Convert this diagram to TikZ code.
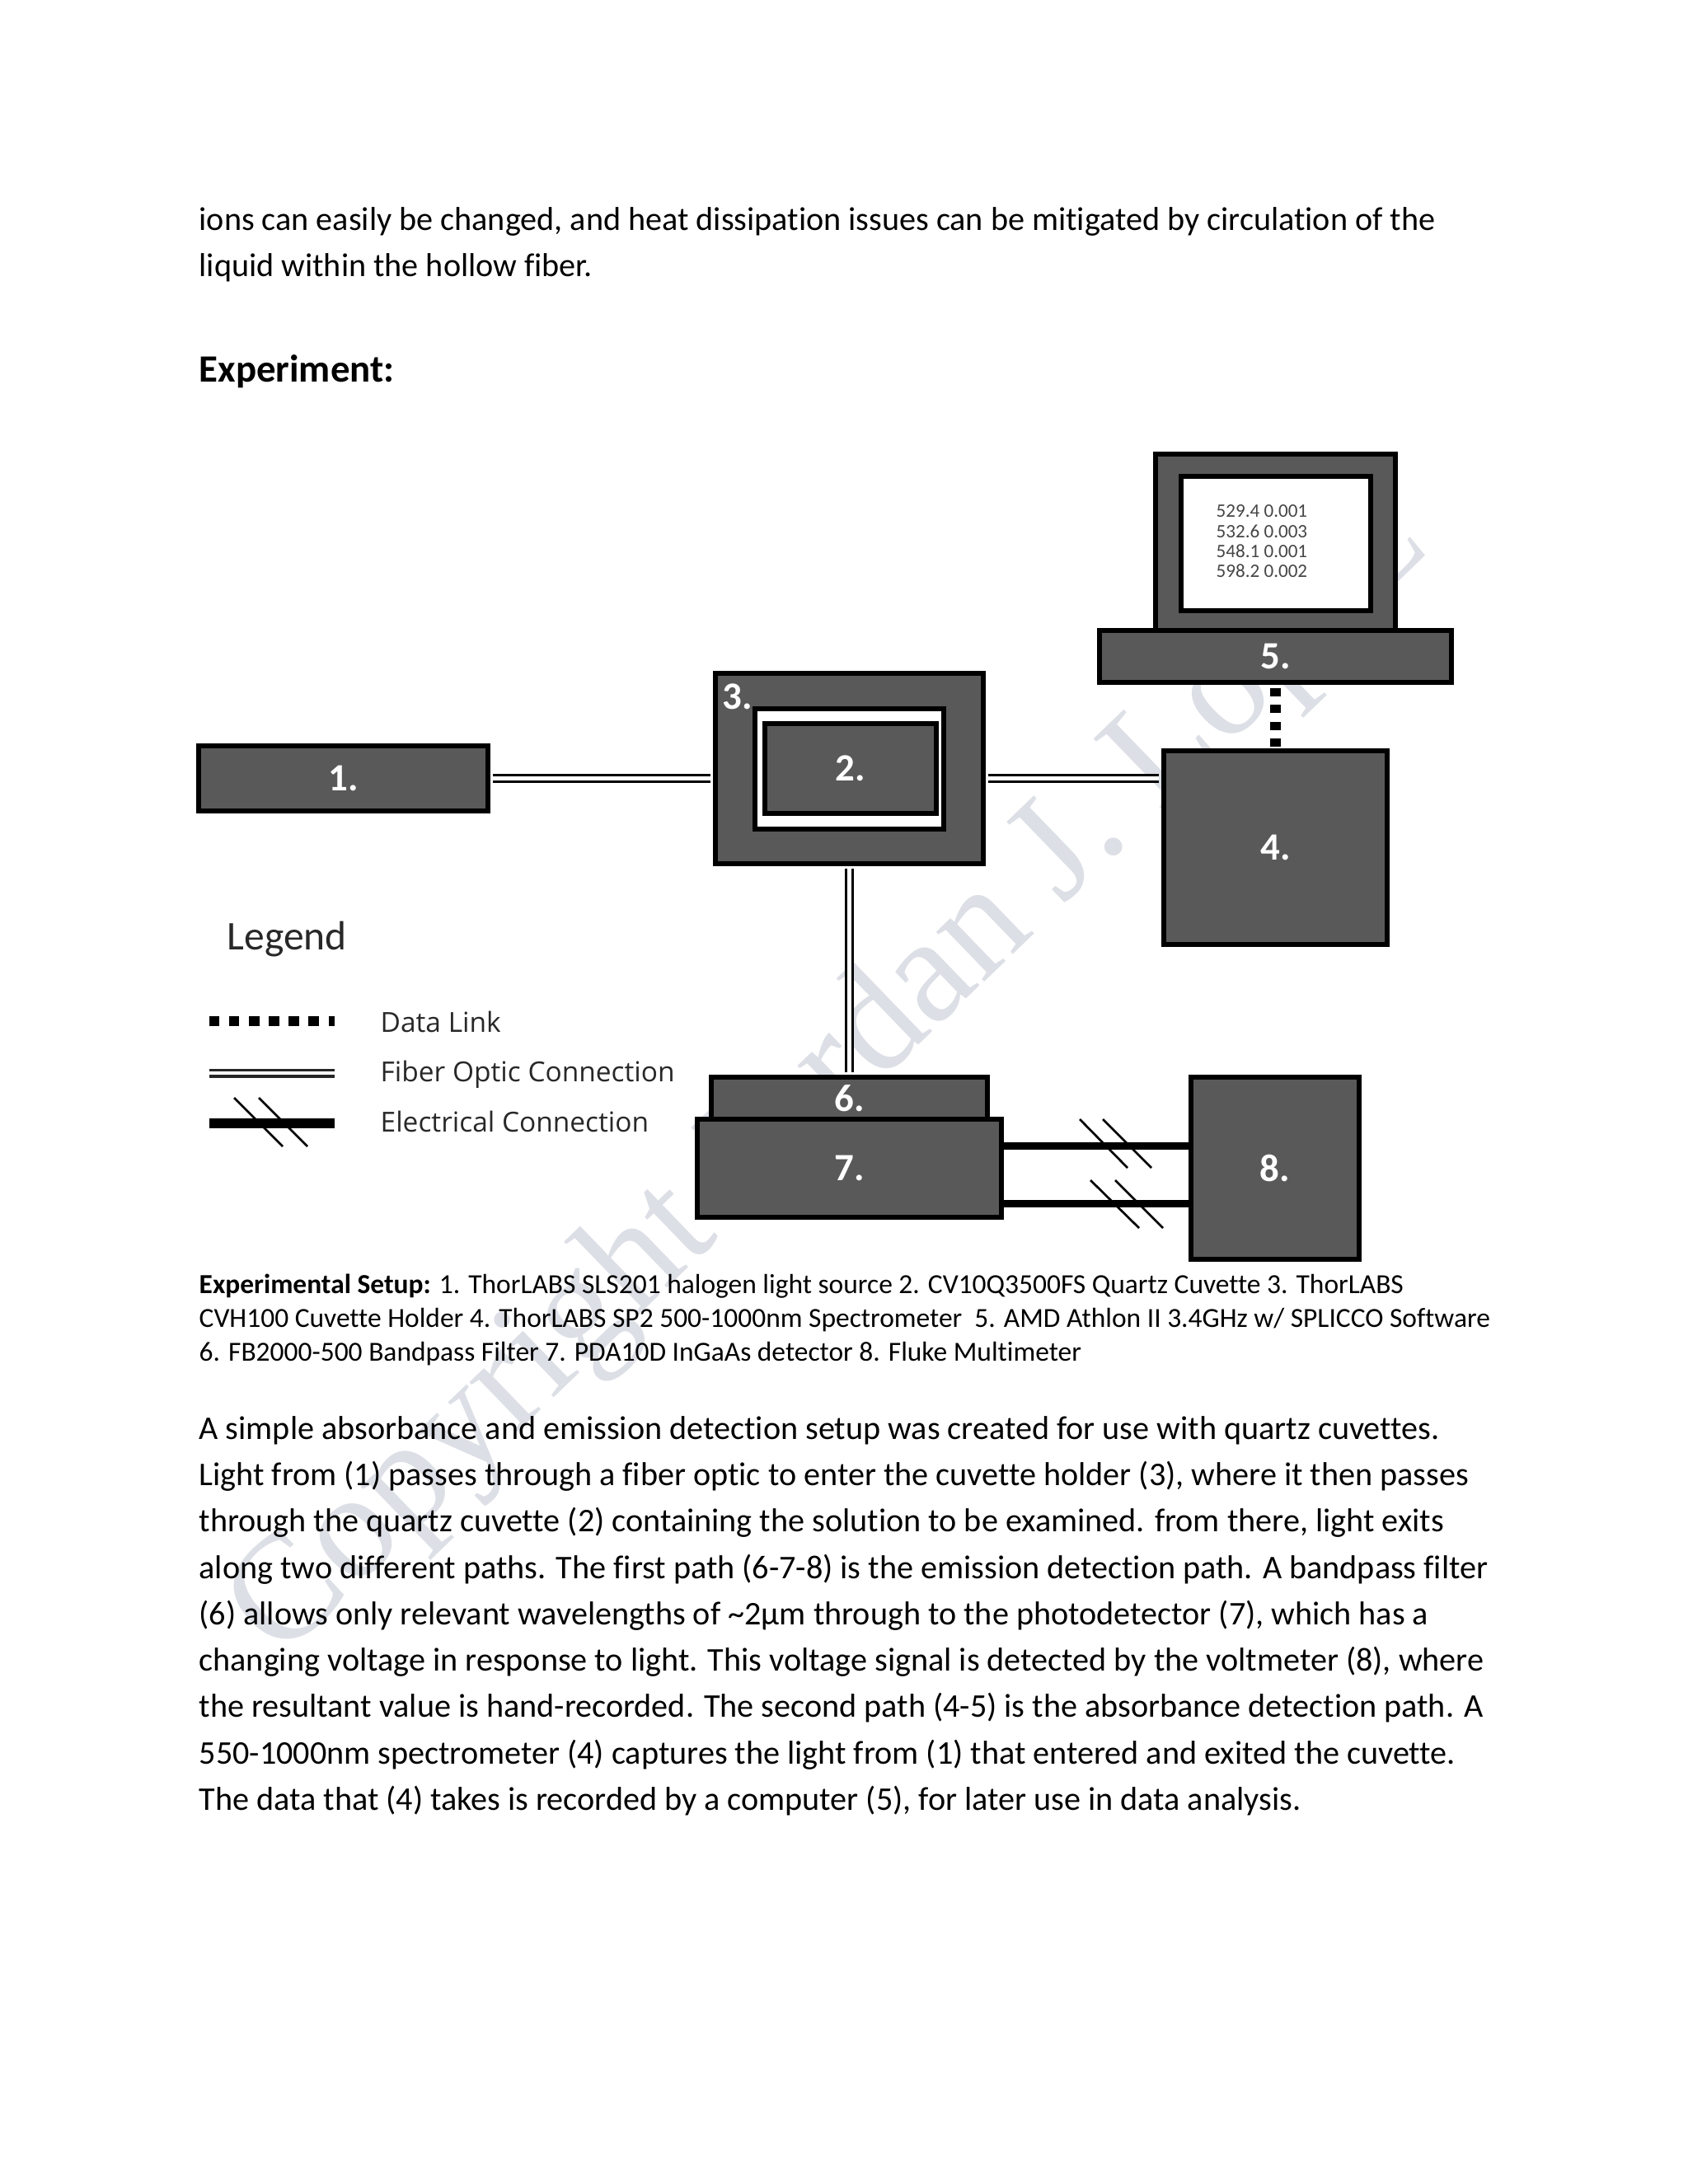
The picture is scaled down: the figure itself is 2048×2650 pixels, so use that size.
\documentclass[tikz,border=0pt]{standalone}
\usepackage{fontspec}
\setmainfont{Carlito}[Ligatures=NoCommon]
\newfontfamily\wmfont{Liberation Serif}
\newfontfamily\legfont{Open Sans}
\usetikzlibrary{fit,calc}
\definecolor{boxgray}{RGB}{89,89,89}
\definecolor{wmgray}{RGB}{221,223,230}
\definecolor{legtext}{RGB}{40,40,40}
\definecolor{montext}{RGB}{70,70,70}
\begin{document}
\begin{tikzpicture}[x=0.298828125pt,y=-0.298828125pt,
  box/.style={draw=black,fill=boxgray,line width=1.8pt,inner sep=0pt},
  whitebox/.style={draw=black,fill=white,line width=1.8pt,inner sep=0pt},
  num/.style={text=white,font=\fontsize{14}{14}\selectfont\bfseries,inner sep=0pt},
  fiber/.style={draw=black,line width=0.9pt,double=white,double distance=1.4pt,shorten <=0.9pt,shorten >=0.9pt},
  datalink/.style={draw=black,line width=3.9pt,dash pattern=on 3pt off 3.1pt,dash phase=4.9pt},
  elec/.style={draw=black,line width=2.7pt},
  hatch/.style={draw=black,line width=0.8pt},
  body/.style={anchor=base west,inner sep=0pt,font=\fontsize{12}{14}\selectfont},
  capt/.style={anchor=base west,inner sep=0pt,font=\fontsize{10}{12}\selectfont},
  legtxt/.style={anchor=base west,inner sep=0pt,text=legtext,font=\legfont\fontsize{10}{12}\selectfont},
  montxt/.style={anchor=base west,inner sep=0pt,text=montext,font=\fontsize{6.9}{7.2}\selectfont},
  watermark/.style={anchor=base west,inner sep=0pt,text=wmgray,font=\wmfont\fontsize{54.6}{58}\selectfont},
]
\fill[white] (0,0) rectangle (2048,2650);
\useasboundingbox (0,0) rectangle (2048,2650);

% watermark (behind everything)
\node[watermark,rotate=44] (wm) at (340,2016) {Copyright Jordan J. Lopez};

% top text
\node[body] (t1) at (241,279) {ions can easily be changed, and heat dissipation issues can be mitigated by circulation of the};
\node[body] (t2) at (241,335) {liquid within the hollow fiber.};
\node[body,font=\fontsize{14}{16}\selectfont\bfseries] (exp) at (241,463) {Experiment:};

% computer (5)
\node[box,fit={(1402,551) (1693,765)}] (mon) {};
\node[whitebox,fit={(1433,578) (1663,741)}] (scr) {};
\node[montxt] (m1) at (1475,627) {529.4 0.001};
\node[montxt] (m2) at (1475,652) {532.6 0.003};
\node[montxt] (m3) at (1475,676) {548.1 0.001};
\node[montxt] (m4) at (1475,700) {598.2 0.002};
\node[box,fit={(1334,765) (1761,828)}] (b5) {};
\node[num] at (b5) {5.};

% spectrometer (4)
\node[box,fit={(1412,911) (1683,1146)}] (b4) {};
\node[num] at (b4) {4.};

% light source (1)
\node[box,fit={(241,905) (592,984)}] (b1) {};
\node[num] at (b1) {1.};

% cuvette holder (3) and cuvette (2)
\node[box,fit={(868,817) (1193,1048)}] (b3) {};
\node[num,anchor=base west] at (876,860) {3.};
\node[whitebox,fit={(916,860) (1145,1006)}] (fr) {};
\node[box,fit={(928,878) (1136,987)}] (b2) {};
\node[num] at (b2) {2.};

% filter (6), detector (7), multimeter (8)
\node[box,fit={(863,1307) (1198,1358)}] (b6) {};
\node[num] at (b6) {6.};
\node[box,fit={(846,1358) (1215,1477)}] (b7) {};
\node[num] at (b7) {7.};
\node[box,fit={(1445,1307) (1649,1528)}] (b8) {};
\node[num] at (b8) {8.};

% connectors
\draw[fiber] (b1.east) -- (b1.east -| b3.west);
\draw[fiber] (b1.east -| b3.east) -- (b1.east -| b4.west);
\draw[fiber] (b3.south) -- (b3.south |- b6.north);
\draw[datalink] (b5.south) -- (b4.north);
\coordinate (e1) at (0,1390);
\coordinate (e2) at (0,1460);
\draw[elec] (b7.east |- e1) -- (b8.west |- e1);
\draw[elec] (b7.east |- e2) -- (b8.west |- e2);
\draw[hatch] (1310,1358) -- (1368,1417);
\draw[hatch] (1338,1358) -- (1397,1417);
\draw[hatch] (1323,1432) -- (1382,1490);
\draw[hatch] (1353,1432) -- (1411,1490);

% legend
\node[anchor=base west,inner sep=0pt,text=legtext,font=\fontsize{14.8}{16}\selectfont] (leg) at (275,1152) {Legend};
\draw[draw=black,line width=3.5pt,dash pattern=on 3.7pt off 3.5pt] (254,1239) -- (406,1239);
\node[legtxt] (l1) at (461,1252) {Data Link};
\draw[draw=black!85,line width=1pt,double=white,double distance=1.3pt] (254,1302) -- (406,1302);
\node[legtxt] (l2) at (461,1312) {Fiber Optic Connection};
\draw[draw=black,line width=3.8pt] (254,1363) -- (406,1363);
\draw[hatch] (284,1332) -- (343,1391);
\draw[hatch] (314,1332) -- (373,1391);
\node[legtxt] (l3) at (461,1373) {Electrical Connection};

% caption
\node[capt] (c1) at (241,1569) {\textbf{Experimental Setup:} 1. ThorLABS SLS201 halogen light source 2. CV10Q3500FS Quartz Cuvette 3. ThorLABS};
\node[capt] (c2) at (241,1610) {CVH100 Cuvette Holder 4. ThorLABS SP2 500-1000nm Spectrometer\ \ 5. AMD Athlon II 3.4GHz w/ SPLICCO Software};
\node[capt] (c3) at (241,1651) {6. FB2000-500 Bandpass Filter 7. PDA10D InGaAs detector 8. Fluke Multimeter};

% paragraph
\node[body] (p1) at (241,1746) {A simple absorbance and emission detection setup was created for use with quartz cuvettes.};
\node[body] (p2) at (241,1802) {Light from (1) passes through a fiber optic to enter the cuvette holder (3), where it then passes};
\node[body] (p3) at (241,1858) {through the quartz cuvette (2) containing the solution to be examined. from there, light exits};
\node[body] (p4) at (241,1915) {along two different paths. The first path (6-7-8) is the emission detection path. A bandpass filter};
\node[body] (p5) at (241,1971) {(6) allows only relevant wavelengths of \textasciitilde 2µm through to the photodetector (7), which has a};
\node[body] (p6) at (241,2027) {changing voltage in response to light. This voltage signal is detected by the voltmeter (8), where};
\node[body] (p7) at (241,2083) {the resultant value is hand-recorded. The second path (4-5) is the absorbance detection path. A};
\node[body] (p8) at (241,2140) {550-1000nm spectrometer (4) captures the light from (1) that entered and exited the cuvette.};
\node[body] (p9) at (241,2196) {The data that (4) takes is recorded by a computer (5), for later use in data analysis.};
\end{tikzpicture}
\end{document}
